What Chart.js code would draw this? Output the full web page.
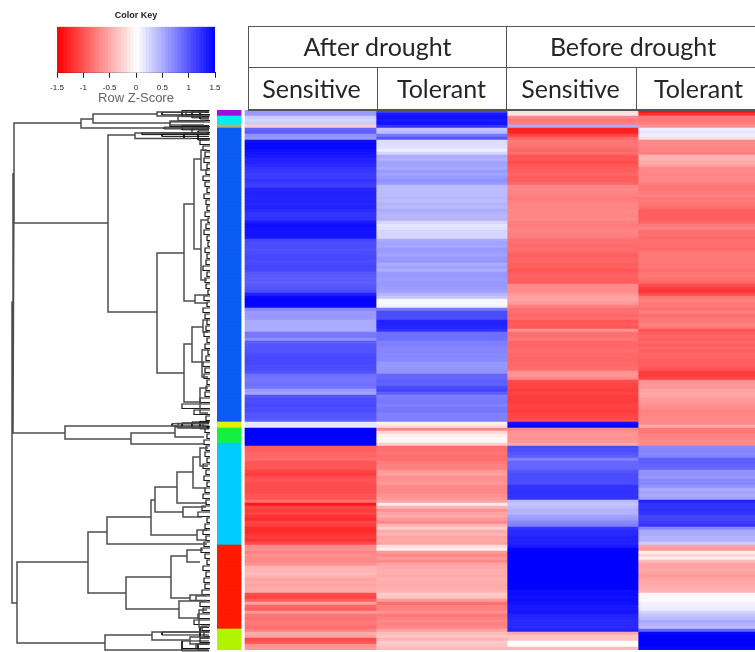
<!DOCTYPE html>
<html><head><meta charset="utf-8"><title>Heatmap</title>
<script src="https://cdn.jsdelivr.net/npm/chart.js@4"></script>
<style>
html,body{margin:0;padding:0;background:#fff;width:755px;height:652px;overflow:hidden}
canvas{position:absolute;display:block}
#heat{left:217px;top:110px;filter:blur(.6px)}
#dendro{left:0;top:110px;filter:blur(.45px)}
#key{left:0;top:0;filter:blur(.35px)}
.c{position:absolute;box-sizing:border-box;display:flex;align-items:center;justify-content:center;font-family:Lato,sans-serif;font-size:25px;color:#262626;border-color:#555;border-style:solid;border-width:0;filter:blur(.3px)}
</style></head><body>
<canvas id="key" width="250" height="106"></canvas>
<canvas id="dendro" width="216" height="542"></canvas>
<canvas id="heat" width="538" height="540"></canvas>
<div class="c" style="left:248px;top:26px;width:259px;height:42px;border-width:1px 1px 1px 1px;padding-bottom:2px">After drought</div>
<div class="c" style="left:506px;top:26px;width:249px;height:42px;border-width:1px 0 1px 1px;padding-bottom:2px;padding-left:4px">Before drought</div>
<div class="c" style="left:248px;top:67px;width:130px;height:44px;border-width:0 1px 2px 1px;padding-right:3px">Sensitive</div>
<div class="c" style="left:377px;top:67px;width:130px;height:44px;border-width:0 1px 2px 0">Tolerant</div>
<div class="c" style="left:506px;top:67px;width:131px;height:44px;border-width:0 1px 2px 1px;padding-right:2px">Sensitive</div>
<div class="c" style="left:636px;top:67px;width:119px;height:44px;border-width:0 0 2px 1px;padding-left:5px">Tolerant</div>
<script>
const afterSensitive=[.6,.6,.3,.25,.3,-.3,.9,.95,.65,.6,
1.42,1.45,1.45,1.42,1.38,1.35,1.3,1.3,1.25,1.2,
1.18,1.15,1.15,1.2,1.15,1.15,1.28,1.3,1.3,1.28,
1.3,1.28,1.3,1.25,1.2,1.2,1.22,1.35,1.42,1.4,
1.38,1.4,1.38,1.08,1.05,1.05,1.03,1.05,1.08,1.08,
1.05,1.08,1.1,1.08,.98,.98,.95,.95,.98,1,
1.05,1.3,1.45,1.48,1.48,1.45,.7,.6,.6,.6,
.5,.5,.5,.5,.8,.8,.65,.95,1,1,
1.02,1.05,1.08,1.08,1.08,1.05,1.05,1.02,.85,.82,
.82,.85,.82,.6,.55,1,1.05,1.05,1.08,1.05,
1.05,1,1,.95,.15,.15,1.5,1.5,1.5,1.5,
1.5,1.5,-.95,-.95,-.9,-.9,-.85,-1,-1,-1,
-1.1,-1.15,-1.05,-1,-1.05,-1.05,-1.05,-1.05,-1,-1,
-.85,-1.35,-1.1,-1.15,-1.1,-1.2,-1.25,-1.1,-1.15,-1.25,
-1.25,-1.2,-1.15,-1.2,-1.05,-.7,-.65,-.75,-.65,-.7,
-.7,-.65,-.45,-.45,-.4,-.45,-.55,-.5,-.55,-.5,
-.5,-1.05,-1.1,-.95,-.55,-.9,-.95,-.6,-.8,-.85,
-.8,-.8,-.85,-.75,-.5,-.55,-1.05,-1,-.65,-.6];
const afterTolerant=[1.1,1.35,1.4,1.35,1.4,1.2,.35,.4,.8,1,
.2,.2,.18,.1,.25,.5,.45,.55,.55,.5,
.6,.55,.6,.65,.6,.4,.38,.4,.4,.42,
.4,.45,.42,.48,.45,.42,.45,.25,.15,.18,
.25,.25,.25,.5,.55,.52,.6,.58,.55,.6,
.62,.5,.55,.48,.6,.6,.58,.6,.6,.58,
.55,.45,.35,.05,.04,.08,.8,1.05,1.05,1.05,
1.3,1.3,1.28,1.2,.85,.85,.85,.75,.75,.72,
.72,.7,.7,.7,.62,.62,.62,.65,.9,.9,
.95,.92,1.05,1.1,.95,.75,.78,.8,.75,.8,
.8,.75,.75,.75,-.1,-.2,-.7,-.25,-.1,-.05,
-.05,-.3,-.85,-.85,-.8,-.85,-.85,-.78,-.75,-.75,
-.6,-.55,-.65,-.65,-.6,-.7,-.7,-.7,-.65,-.6,
-.55,-.12,-.45,-.65,-.55,-.5,-.6,-.7,-.45,-.3,
-.5,-.45,-.55,-.5,-.55,-.2,-.1,-.6,-.7,-.6,
-.7,-.55,-.5,-.48,-.48,-.5,-.45,-.48,-.5,-.48,
-.45,-.3,-.35,-.6,-.85,-.75,-.75,-.65,-.8,-.75,
-.7,-.75,-.7,-.55,-.4,-.35,-.45,-.3,-.35,-.4];
const beforeSensitive=[-.2,-.15,-.7,-.8,-.75,.5,-1.3,-1.3,-1.1,-.9,
-.8,-.8,-.85,-.9,-.85,-1,-1,-1.05,-1,-.95,
-.95,-.9,-.95,-.95,-.9,-.72,-.7,-.72,-.75,-.78,
-.75,-.72,-.72,-.7,-.7,-.72,-.7,-.75,-.78,-.75,
-.72,-.75,-.78,-.85,-.85,-.88,-.85,-.88,-.95,-.92,
-.9,-.95,-.95,-1,-.95,-.92,-.95,-.95,-.7,-.68,
-.68,-.6,-.55,-.55,-.6,-.75,-.85,-.85,-.9,-.85,
-1,-.95,-1,-.65,-.85,-.85,-.8,-.9,-.9,-.88,
-.85,-.9,-.88,-.9,-.88,-.88,-.85,-.65,-.62,-.7,
-1.05,-1.1,-1.1,-1.15,-1.1,-1.15,-1.15,-1.15,-1.1,-1.12,
-1.15,-1.1,-1.08,-1.05,1.4,1.45,-.7,-.65,-.62,-.65,
-.62,-.5,1.05,1.05,1,.95,.75,.9,.9,.92,
1,1.05,1.05,1.05,1.05,1.2,1.2,1.22,1.2,1.2,
.4,.35,.4,.45,.45,.55,.6,.7,.75,1.2,
1.25,1.25,1.3,1.3,1.3,1.35,1.48,1.5,1.5,1.5,
1.5,1.5,1.5,1.5,1.5,1.5,1.5,1.5,1.5,1.5,
1.42,1.42,1.4,1.42,1.4,1.35,1.35,1.38,1.3,1.28,
1.25,1.25,1.25,1.3,-.5,-.35,-.35,-.02,-.02,-.4];
const beforeTolerant=[-1.4,-1.2,-.8,-.8,-.75,-.65,.1,.15,.1,-.2,
-.7,-.7,-.72,-.72,-.75,-.45,-.45,-.5,-.55,-.7,
-.7,-.72,-.7,-.68,-.75,-.82,-.8,-.78,-.75,-.8,
-.78,-.8,-.85,-.95,-.95,-.95,-.95,-.9,-.78,-.75,
-.85,-.85,-.88,-.85,-.85,-.85,-.88,-.8,-.78,-.8,
-.8,-.82,-.8,-.85,-.82,-.8,-.85,-.9,-1.05,-1.15,
-1.2,-1.05,-.8,-.75,-.8,-.78,-.85,-.75,-.85,-.8,
-.8,-.75,-.8,-1,-.95,-.9,-.95,-.9,-.95,-.9,
-.95,-.9,-.92,-.95,-.95,-.95,-1,-1.15,-1.15,-1.1,
-.65,-.62,-.6,-.55,-.52,-.55,-.6,-.62,-.65,-.7,
-.72,-.72,-.7,-.7,-.7,-.5,-.8,-.8,-.75,-.72,
-.7,-.7,.7,.72,.7,.75,.95,.95,.92,.9,
.65,.65,.6,.7,.7,.65,.5,.55,.5,.55,
1.3,1.2,1.2,1.22,1.2,1.1,1.1,1.15,1.2,.7,
.5,.5,.45,.45,.3,-.55,-.6,-.1,-.25,-.1,
-.4,-.55,-.55,-.5,-.55,-.6,-.55,-.5,-.5,-.48,
-.45,-.05,-.05,-.03,.08,.1,.12,.25,.35,.4,
.5,.45,.4,.9,1.45,1.5,1.5,1.5,1.5,1.45];

const columnNames=["After drought Sensitive","After drought Tolerant","Before drought Sensitive","Before drought Tolerant"];

const clusterColors=["#9a10e0","#00eef0","#b8b070","#0a5cf5","#e4f000","#12f040","#00ccff","#ff1a00","#b0f400"];
const clusterRowCounts=[2,3,1,98,2,5,34,28,7];

const keyBreaks=[-1.5,-1.44,-1.38,-1.32,-1.26,-1.2,-1.14,-1.08,-1.02,-.96,-.9,-.84,-.78,-.72,-.66,-.6,-.54,-.48,-.42,-.36,-.3,-.24,-.18,-.12,-.06,0,
.06,.12,.18,.24,.3,.36,.42,.48,.54,.6,.66,.72,.78,.84,.9,.96,1.02,1.08,1.14,1.2,1.26,1.32,1.38,1.44,1.5];

// dendrogram merges: [height, row of upper child, height of upper child, row of lower child, height of lower child]
const dendroMerges=[
[200,64,199,164.3,195],[199,21,198,107.7,147],[198,4.3,131,37.7,104],
[131,3,119,6,6],[119,1.3,55,4.3,42],[55,.7,7,2,10],[42,3.7,7,5,8],
[104,8.3,77,67.3,55],[77,7.7,5,9.5,20],[55,47.7,28,87.7,28],
[28,31.3,18,63.7,17],[18,16.3,11,46.3,11],[11,13.3,5,20,4],[11,36.7,4,56.7,5],[17,61.7,4,64.3,4],
[28,78,20,97.3,12],[20,72.3,9,84,10],[10,80,4,89,4],[12,92.7,4,101,4],[9,70,4,74,4],
[147,105.3,34,109.7,81],[34,104.5,5,106,5],[81,107.7,37,111.3,8],[37,105.7,6,109,8],
[195,150.7,124,177.7,107],[124,140.7,105,161,86],[105,135.7,61,144.7,5],
[61,130,57,141.7,15],[57,125.7,35,134,29],[35,120.7,19,131,5],[19,115.7,12,126,6],[12,112.7,4,118.7,4],
[29,132.3,6,135.7,10],[15,140,5,143.3,5],[86,155.7,41,166.3,33],[41,148.7,25,162.7,22],
[25,146.7,9,150.7,12],[22,161.7,6,163.5,5],[33,163.7,6,169.3,13],[13,166.7,5,172.3,5],
[107,175,60,180,4],[60,174,5,176.7,22],[22,175.7,5,178,5]];

// densely packed low merges inside the tight clusters
const denseMerges=[
[50,.8,3,1.6,3],[30,.2,3,2.2,3],[20,.4,3,2.6,3],[12,0,3,3,3],[48,5.7,3,6.3,3],[30,5.2,3,6.6,3],
[70,7.6,3,8.2,3],[50,8,3,8.8,3],[28,7.5,3,9.5,3],[14,7,3,10,3],
[40,104.6,3,105.3,3],[30,104.3,3,105.8,3],[20,104,3,106,3],[12,103.8,3,106.3,3],
[50,174,3,175,3],[30,177,3,179.5,3],[12,172.5,3,176,3],[14,178,3,180,3],[30,179.5,3,180.3,3]];

// short leaf-level merges, one for every two rows from the top
const tipHeights=[26,34,42,20,28,12,9,7,8,5,6,9,7,5,8,6,
5,7,4,6,8,5,4,7,5,6,9,5,7,6,4,8,5,9,7,5,
6,8,5,7,4,6,9,7,8,5,6,7,12,30,18,6,9,7,5,8,
6,7,5,9,6,8,5,7,9,6,10,14,5,7,9,6,8,11,7,5,
9,6,8,7,10,16,12,9,14,18,10,8,12,16];
const leafHeight=2;

const keyTicks=[-1.5,-1,-.5,0,.5,1,1.5];

function zColor(v){
  const t=Math.min(Math.abs(v)/1.5,1), c=Math.round(255*(1-t));
  return v<0?`rgb(255,${c},${c})`:`rgb(${c},${c},255)`;
}
const rowLabels=afterSensitive.map((_,i)=>"row "+(i+1));
const sideColors=clusterColors.flatMap((c,i)=>Array(clusterRowCounts[i]).fill(c));
const sideLeft=-.2137, sideRight=-.03;

const columns=[afterSensitive,afterTolerant,beforeSensitive,beforeTolerant];
const heatSets=columns.map((vals,i)=>({
  label:columnNames[i],
  data:vals.map(()=>[i,i+1]),
  backgroundColor:vals.map(zColor)
}));
heatSets.push({label:"Cluster",data:rowLabels.map(()=>[sideLeft,sideRight]),backgroundColor:sideColors});

new Chart(document.getElementById("heat"),{
  type:"bar",
  data:{labels:rowLabels,datasets:heatSets},
  options:{
    indexAxis:"y",responsive:false,animation:false,
    layout:{padding:0},
    datasets:{bar:{grouped:false,categoryPercentage:1,barPercentage:1,borderWidth:0}},
    plugins:{legend:{display:false},tooltip:{enabled:false}},
    scales:{
      x:{type:"linear",min:sideLeft,max:3.893,display:false},
      y:{type:"category",display:false}
    }
  }
});

function mergesToPoints(merges){
  const pts=[];
  merges.forEach(([h,r1,h1,r2,h2])=>{
    pts.push({x:h1,y:r1},{x:h,y:r1},{x:h,y:r2},{x:h2,y:r2},{x:NaN,y:NaN});
  });
  return pts;
}
const tipMerges=tipHeights.map((h,i)=>[h,i*2,leafHeight,i*2+1.5,leafHeight]);
new Chart(document.getElementById("dendro"),{
  type:"scatter",
  data:{datasets:[
    {label:"Merges",data:mergesToPoints(dendroMerges),showLine:true,borderColor:"#4d4d4d",borderWidth:1.5,pointRadius:0,spanGaps:false},
    {label:"Leaves",data:mergesToPoints(tipMerges),showLine:true,borderColor:"#1a1a1a",borderWidth:1.2,pointRadius:0,spanGaps:false},
    {label:"Dense",data:mergesToPoints(denseMerges),showLine:true,borderColor:"#111",borderWidth:1,pointRadius:0,spanGaps:false}
  ]},
  options:{
    responsive:false,animation:false,layout:{padding:0},
    plugins:{legend:{display:false},tooltip:{enabled:false}},
    scales:{
      x:{type:"linear",reverse:true,min:-4,max:212,display:false},
      y:{type:"linear",reverse:true,min:0,max:180.67,display:false}
    }
  }
});

new Chart(document.getElementById("key"),{
  type:"bar",
  data:{labels:["Z"],datasets:keyBreaks.slice(0,-1).map((v,i)=>{
    const hi=keyBreaks[i+1];
    return {label:"k"+i,data:[[v,hi+.004]],backgroundColor:zColor((v+hi)/2)};
  })},
  options:{
    indexAxis:"y",responsive:false,animation:false,
    layout:{padding:{left:57,right:35,top:0,bottom:0}},
    datasets:{bar:{grouped:false,categoryPercentage:1,barPercentage:1,borderWidth:0}},
    plugins:{
      legend:{display:false},tooltip:{enabled:false},
      title:{display:true,text:"Color Key",color:"#222",font:{family:"Liberation Sans",size:9,weight:"bold"},padding:{top:10,bottom:6}}
    },
    scales:{
      x:{type:"linear",min:-1.5,max:1.5,
        afterBuildTicks(s){s.ticks=keyTicks.map(value=>({value}));},
        grid:{display:true,drawOnChartArea:false,drawTicks:true,tickLength:5,tickColor:"#222"},
        border:{color:"#222"},
        ticks:{color:"#222",font:{family:"Liberation Sans",size:8},maxRotation:0,autoSkip:false,padding:5,callback:v=>String(v)},
        title:{display:true,text:"Row Z-Score",color:"#666",font:{family:"Liberation Sans",size:13},padding:{top:-7,bottom:0}}
      },
      y:{display:false}
    }
  }
});
</script>
</body></html>
